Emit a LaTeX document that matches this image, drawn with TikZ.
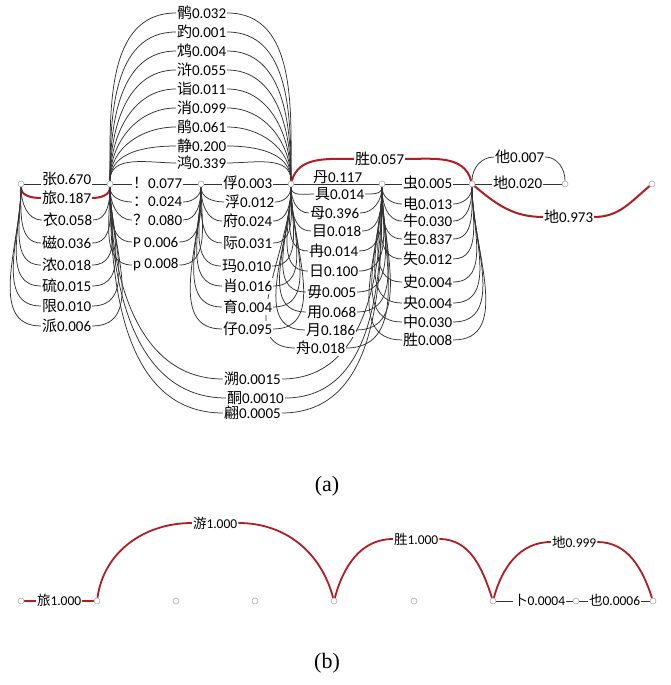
\documentclass[tikz,border=0pt]{standalone}
\usepackage{fontspec}
\setmainfont{Carlito}
\newfontfamily\cjk{Noto Sans CJK SC}
\newfontfamily\tms{Liberation Serif}
\pgfdeclarelayer{bg}
\pgfsetlayers{bg,main}
\definecolor{lc}{RGB}{50,50,50}
\definecolor{rc}{RGB}{178,28,34}
\definecolor{nc}{RGB}{170,170,170}
\tikzset{
 vtx/.style={circle,draw=nc,fill=white,line width=0.6pt,inner sep=0pt,minimum size=6pt},
 lbl/.style={fill=white,inner sep=0.8pt,font=\fontsize{15}{15}\selectfont,anchor=west},
 lblb/.style={lbl,font=\fontsize{13.5}{13.5}\selectfont},
 ln/.style={draw=lc,line width=0.75pt},
 rl/.style={draw=rc,line width=2pt},
 rlb/.style={draw=rc,line width=1.8pt},
 captxt/.style={font=\tms\fontsize{22}{22}\selectfont},
}
\newcommand\cj[2]{{\cjk #1}#2}
% [style]{src}{tgt}{name}{x}{y}{text}
\newcommand\ArcD[7][ln]{%
 \node[lbl] (#4) at (#5,{685-#6}) {#7};
 \begin{pgfonlayer}{bg}
 \draw[#1] (#2) to[out=-90,in=180] (#4.west);
 \draw[#1] (#4.east) to[out=0,in=-90] (#3);
 \end{pgfonlayer}}
\newcommand\ArcU[7][ln]{%
 \node[lbl] (#4) at (#5,{685-#6}) {#7};
 \begin{pgfonlayer}{bg}
 \draw[#1] (#2) to[out=90,in=180] (#4.west);
 \draw[#1] (#4.east) to[out=0,in=90] (#3);
 \end{pgfonlayer}}
\newcommand\Str[7][ln]{%
 \node[lbl] (#4) at (#5,{685-#6}) {#7};
 \begin{pgfonlayer}{bg}
 \draw[#1] (#2) -- (#3);
 \end{pgfonlayer}}
\begin{document}
\begin{tikzpicture}[x=1pt,y=1pt]
\useasboundingbox (0,0) rectangle (671,685);
% ---------- (a) vertices
\node[vtx] (n0) at (21,{685-184}) {};
\node[vtx] (n1) at (110,{685-184}) {};
\node[vtx] (n2) at (201,{685-184}) {};
\node[vtx] (n3) at (291,{685-184}) {};
\node[vtx] (n4) at (382,{685-184}) {};
\node[vtx] (n5) at (472,{685-184}) {};
\node[vtx] (n6) at (565,{685-184}) {};
\node[vtx] (n7) at (652,{685-184}) {};
% n0 -> n1
\Str{n0}{n1}{a1}{41}{179}{\cj{张}{0.670}}
\ArcD[rl]{n0}{n1}{a2}{41}{198}{\cj{旅}{0.187}}
\ArcD{n0}{n1}{a3}{42}{220}{\cj{衣}{0.058}}
\ArcD{n0}{n1}{a4}{41}{243}{\cj{磁}{0.036}}
\ArcD{n0}{n1}{a5}{41}{265}{\cj{浓}{0.018}}
\ArcD{n0}{n1}{a6}{41}{286}{\cj{硫}{0.015}}
\ArcD{n0}{n1}{a7}{41}{306}{\cj{限}{0.010}}
\ArcD{n0}{n1}{a8}{41}{326}{\cj{派}{0.006}}
% n1 -> n3 (above)
\ArcU{n1}{n3}{b1}{176}{13}{\cj{鹘}{0.032}}
\ArcU{n1}{n3}{b2}{176}{32}{\cj{趵}{0.001}}
\ArcU{n1}{n3}{b3}{176}{51}{\cj{鸩}{0.004}}
\ArcU{n1}{n3}{b4}{176}{70}{\cj{浒}{0.055}}
\ArcU{n1}{n3}{b5}{176}{89}{\cj{诣}{0.011}}
\ArcU{n1}{n3}{b6}{176}{108}{\cj{消}{0.099}}
\ArcU{n1}{n3}{b7}{176}{127}{\cj{鹃}{0.061}}
\ArcU{n1}{n3}{b8}{176}{146}{\cj{静}{0.200}}
\ArcU{n1}{n3}{b9}{176}{163}{\cj{鸿}{0.339}}
% n1 -> n2
\Str{n1}{n2}{c1}{132}{183}{\cj{！}{0.077}}
\ArcD{n1}{n2}{c2}{132}{202}{\cj{：}{0.024}}
\ArcD{n1}{n2}{c3}{132}{220}{\cj{？}{0.080}}
\ArcD{n1}{n2}{c4}{132}{242}{P 0.006}
\ArcD{n1}{n2}{c5}{132}{265}{p 0.008}
% n2 -> n3
\Str{n2}{n3}{d1}{222}{183}{\cj{俘}{0.003}}
\ArcD{n2}{n3}{d2}{224}{202}{\cj{浮}{0.012}}
\ArcD{n2}{n3}{d3}{222}{221}{\cj{府}{0.024}}
\ArcD{n2}{n3}{d4}{222}{243}{\cj{际}{0.031}}
\ArcD{n2}{n3}{d5}{221}{266}{\cj{玛}{0.010}}
\ArcD{n2}{n3}{d6}{222}{286}{\cj{肖}{0.016}}
\ArcD{n2}{n3}{d7}{222}{307}{\cj{育}{0.004}}
\ArcD{n2}{n3}{d8}{222}{329}{\cj{仔}{0.095}}
% n3 -> n4
\Str{n3}{n4}{e1}{312}{177}{\cj{丹}{0.117}}
\ArcD{n3}{n4}{e2}{314}{194}{\cj{具}{0.014}}
\ArcD{n3}{n4}{e3}{309}{213}{\cj{母}{0.396}}
\ArcD{n3}{n4}{e4}{311}{231}{\cj{目}{0.018}}
\ArcD{n3}{n4}{e5}{308}{251}{\cj{冉}{0.014}}
\ArcD{n3}{n4}{e6}{308}{271}{\cj{日}{0.100}}
\ArcD{n3}{n4}{e7}{306}{292}{\cj{毋}{0.005}}
\ArcD{n3}{n4}{e8}{306}{312}{\cj{用}{0.068}}
\ArcD{n3}{n4}{e9}{305}{330}{\cj{月}{0.186}}
\ArcD{n3}{n4}{e10}{295}{348}{\cj{舟}{0.018}}
% n4 -> n5
\Str{n4}{n5}{f1}{402}{183}{\cj{虫}{0.005}}
\ArcD{n4}{n5}{f2}{402}{204}{\cj{电}{0.013}}
\ArcD{n4}{n5}{f3}{402}{221}{\cj{牛}{0.030}}
\ArcD{n4}{n5}{f4}{402}{239}{\cj{生}{0.837}}
\ArcD{n4}{n5}{f5}{402}{259}{\cj{失}{0.012}}
\ArcD{n4}{n5}{f6}{402}{282}{\cj{史}{0.004}}
\ArcD{n4}{n5}{f7}{402}{303}{\cj{央}{0.004}}
\ArcD{n4}{n5}{f8}{402}{322}{\cj{中}{0.030}}
\ArcD{n4}{n5}{f9}{402}{340}{\cj{胜}{0.008}}
% n1 -> n4 (deep below)
\ArcD{n1}{n4}{g1}{223}{379}{\cj{溯}{0.0015}}
\ArcD{n1}{n4}{g2}{226}{398}{\cj{酮}{0.0010}}
\ArcD{n1}{n4}{g3}{223}{413}{\cj{翩}{0.0005}}
% n3 -> n5 red
\node[lbl] (s1) at (354,{685-159}) {\cj{胜}{0.057}};
\begin{pgfonlayer}{bg}
\draw[rl] (n3) to[out=75,in=180] (s1.west);
\draw[rl] (s1.east) to[out=0,in=105] (n5);
\end{pgfonlayer}
% n5 -> n6
\ArcU{n5}{n6}{h1}{494}{157}{\cj{他}{0.007}}
\Str{n5}{n6}{h2}{492}{183}{\cj{地}{0.020}}
% n5 -> n7 red
\node[lbl] (h3) at (543,{685-217}) {\cj{地}{0.973}};
\begin{pgfonlayer}{bg}
\draw[rl] (n5) to[out=-40,in=180] (h3.west);
\draw[rl] (h3.east) to[out=0,in=-140] (n7);
\end{pgfonlayer}
\node[captxt] (capa) at (327,{685-486}) {(a)};
% ---------- (b)
\node[vtx] (m0) at (21,{685-601}) {};
\node[vtx] (m1) at (97,{685-601}) {};
\node[vtx] (m2) at (176,{685-601}) {};
\node[vtx] (m3) at (255,{685-601}) {};
\node[vtx] (m4) at (334,{685-601}) {};
\node[vtx] (m5) at (414,{685-601}) {};
\node[vtx] (m6) at (493,{685-601}) {};
\node[vtx] (m7) at (576,{685-601}) {};
\node[vtx] (m8) at (653,{685-601}) {};
\node[lblb] (k1) at (36,{685-600}) {\cj{旅}{1.000}};
\node[lblb] (k2) at (192,{685-523}) {\cj{游}{1.000}};
\node[lblb] (k3) at (393,{685-539}) {\cj{胜}{1.000}};
\node[lblb] (k4) at (551,{685-542}) {\cj{地}{0.999}};
\node[lblb] (k5) at (513,{685-600}) {\cj{卜}{0.0004}};
\node[lblb] (k6) at (588,{685-600}) {\cj{也}{0.0006}};
\begin{pgfonlayer}{bg}
\draw[rlb] (m0) -- (m1);
\draw[rlb] (m1) to[out=82,in=180] (k2.west);
\draw[rlb] (k2.east) to[out=0,in=105] (m4);
\draw[rlb] (m4) to[out=75,in=180] (k3.west);
\draw[rlb] (k3.east) to[out=0,in=108] (m6);
\draw[rlb] (m6) to[out=75,in=180] (k4.west);
\draw[rlb] (k4.east) to[out=0,in=108] (m8);
\draw[ln] (m6) -- (m7);
\draw[ln] (m7) -- (m8);
\end{pgfonlayer}
\node[captxt] (capb) at (327,{685-663}) {(b)};
\end{tikzpicture}
\end{document}
